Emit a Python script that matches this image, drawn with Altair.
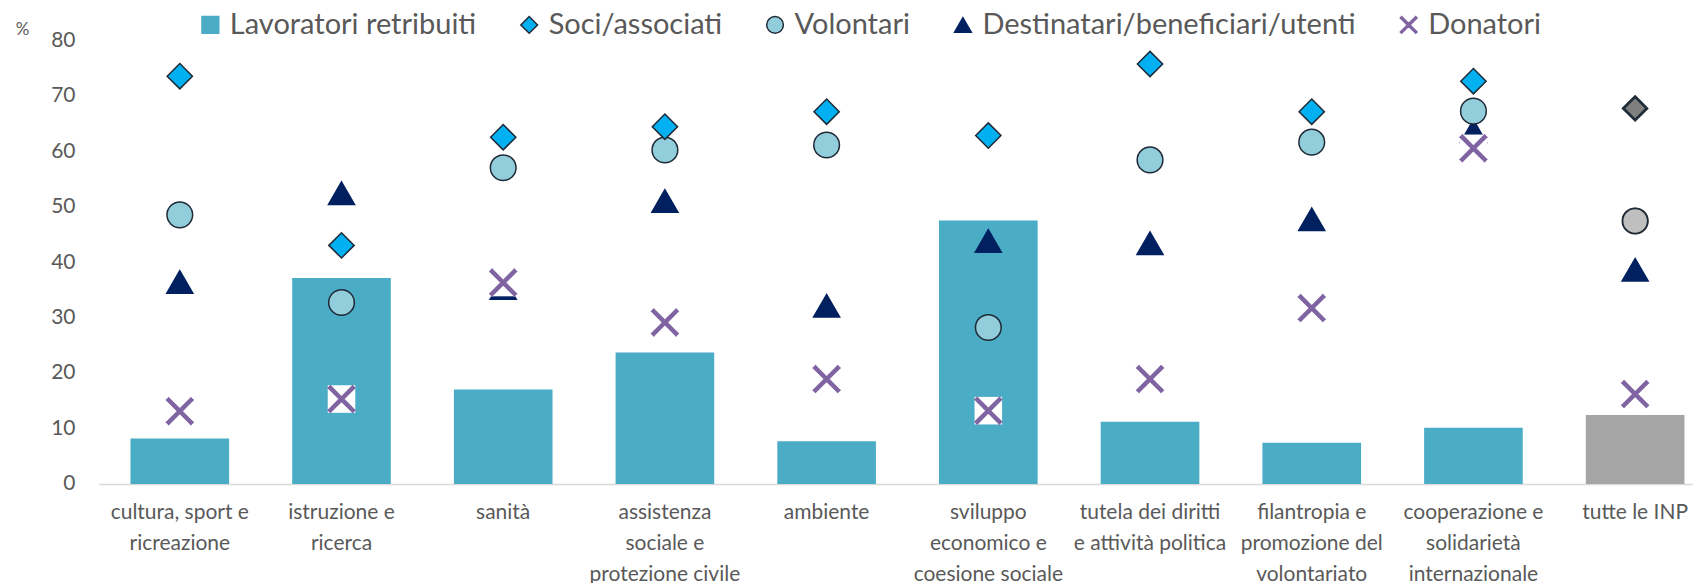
import altair as alt
import pandas as pd

categories = [
    "cultura, sport e|ricreazione",
    "istruzione e|ricerca",
    "sanità",
    "assistenza|sociale e|protezione civile",
    "ambiente",
    "sviluppo|economico e|coesione sociale",
    "tutela dei diritti|e attività politica",
    "filantropia e|promozione del|volontariato",
    "cooperazione e|solidarietà|internazionale",
    "tutte le INP",
]
series = ["Lavoratori retribuiti", "Soci/associati", "Volontari",
          "Destinatari/beneficiari/utenti", "Donatori"]

lavoratori = [8.2, 37.1, 17.0, 23.7, 7.7, 47.5, 11.2, 7.4, 10.1, 12.4]
soci = [73.5, 43.0, 62.5, 64.4, 67.1, 62.8, 75.7, 67.1, 72.6, 67.7]
volontari = [48.5, 32.7, 57.0, 60.2, 61.1, 28.2, 58.4, 61.6, 67.2, 47.4]
destinatari = [36.4, 52.4, 35.3, 51.0, 32.1, 43.8, 43.4, 47.7, 63.6, 38.6]
donatori = [13.1, 15.3, 36.3, 29.1, 18.9, 13.2, 18.9, 31.7, 60.5, 16.2]

TOTAL = "tutte le INP"
FONT = "Lato, sans-serif"
TXT = "#595959"
TEAL = "#4BACC6"
BLUE = "#00B0F0"
LIGHT = "#92CDDC"
NAVY = "#002060"
PURPLE = "#8064A2"
DARK = "#1F2A36"
XPATH = ("M-0.84,-1L0,-0.16L0.84,-1L1,-0.84L0.16,0L1,0.84L0.84,1L0,0.16"
         "L-0.84,1L-1,0.84L-0.16,0L-1,-0.84Z")

bars_df = pd.DataFrame({"cat": categories, "value": lavoratori})

rows = []
for z, (s, vals) in enumerate([(series[3], destinatari), (series[4], donatori),
                               (series[2], volontari), (series[1], soci)]):
    for c, v in zip(categories, vals):
        rows.append({"cat": c, "series": s, "value": v, "z": z})
pts_df = pd.DataFrame(rows)
don_df = pd.DataFrame({"cat": categories, "value": donatori})
soci_df = pd.DataFrame({"cat": categories, "value": soci})
vol_df = pd.DataFrame({"cat": categories, "value": volontari})

x_enc = alt.X(
    "cat:N", sort=categories,
    scale=alt.Scale(range=[0, 1618], paddingInner=0.39, paddingOuter=0.195),
    axis=alt.Axis(title=None, labelAngle=0, labelExpr="split(datum.label, '|')",
                  labelFontSize=21, labelLineHeight=31, labelColor=TXT,
                  labelFont=FONT, labelPadding=18, ticks=False, tickSize=0,
                  domainColor="#D9D9D9", domainWidth=1.5, labelLimit=400,
                  labelOverlap=False, labelBound=False),
)
y_enc = alt.Y(
    "value:Q", scale=alt.Scale(domain=[0, 80], nice=False),
    axis=alt.Axis(values=list(range(0, 81, 10)), grid=False, domain=False,
                  ticks=False, tickSize=0, labelPadding=24, labelFontSize=21,
                  labelColor=TXT, labelFont=FONT,
                  title="%", titleAngle=0, titleX=-77, titleY=-11,
                  titleFontSize=17, titleFontWeight="normal", titleColor=TXT,
                  titleFont=FONT, titleAlign="center", titleBaseline="middle"),
)

legend = alt.Legend(orient="none", legendX=97, legendY=-30,
                    direction="horizontal", title=None, labelFontSize=29,
                    labelFont=FONT, labelColor=TXT, symbolSize=280,
                    symbolStrokeWidth=1.5, columnPadding=38, labelOffset=5,
                    labelLimit=600)

bars = alt.Chart(bars_df).mark_bar().encode(
    x=x_enc, y=y_enc,
    color=alt.condition(alt.datum.cat == TOTAL, alt.value("#A5A5A5"), alt.value(TEAL)),
)

# size scale uses a reversed domain so it does not merge with (and disable) the legend
size_domain = list(reversed(series))
size_range = [700, 620, 625, 484, 300]

pts = alt.Chart(pts_df).mark_point(filled=True, strokeWidth=1.5, opacity=1).encode(
    x=x_enc, y=y_enc,
    shape=alt.Shape("series:N", scale=alt.Scale(domain=series,
                    range=["square", "diamond", "circle", "triangle-up", XPATH]), legend=legend),
    fill=alt.Fill("series:N", scale=alt.Scale(domain=series,
                  range=[TEAL, BLUE, LIGHT, NAVY, PURPLE]), legend=legend),
    stroke=alt.Stroke("series:N", scale=alt.Scale(domain=series,
                      range=[TEAL, DARK, DARK, NAVY, PURPLE]), legend=legend),
    size=alt.Size("series:N", scale=alt.Scale(domain=size_domain, range=size_range),
                  legend=None),
    order=alt.Order("z:Q"),
)

wsq = alt.Chart(don_df).mark_point(shape="square", filled=True, color="white",
                                   opacity=1, size=760, strokeWidth=0).encode(x=x_enc, y=y_enc)
xs = alt.Chart(don_df).mark_point(shape=XPATH, filled=True, fill=PURPLE, stroke=PURPLE,
                                  strokeWidth=1.5, opacity=1, size=700).encode(x=x_enc, y=y_enc)
gd = alt.Chart(soci_df).transform_filter(alt.datum.cat == TOTAL).mark_point(
    shape="diamond", filled=True, fill="#7F7F7F", stroke=DARK, strokeWidth=1.5,
    opacity=1, size=484).encode(x=x_enc, y=y_enc)
gc = alt.Chart(vol_df).transform_filter(alt.datum.cat == TOTAL).mark_point(
    shape="circle", filled=True, fill="#BFBFBF", stroke=DARK, strokeWidth=1.5,
    opacity=1, size=625).encode(x=x_enc, y=y_enc)

chart = alt.layer(bars, pts, wsq, xs, gd, gc).properties(
    width=1595, height=444,
    autosize=alt.AutoSizeParams(type="none"),
    padding={"left": 91, "top": 32, "right": 0, "bottom": 99},
).configure_view(stroke=None)

chart.save("out.html", embed_options={"renderer": "svg", "actions": False})
